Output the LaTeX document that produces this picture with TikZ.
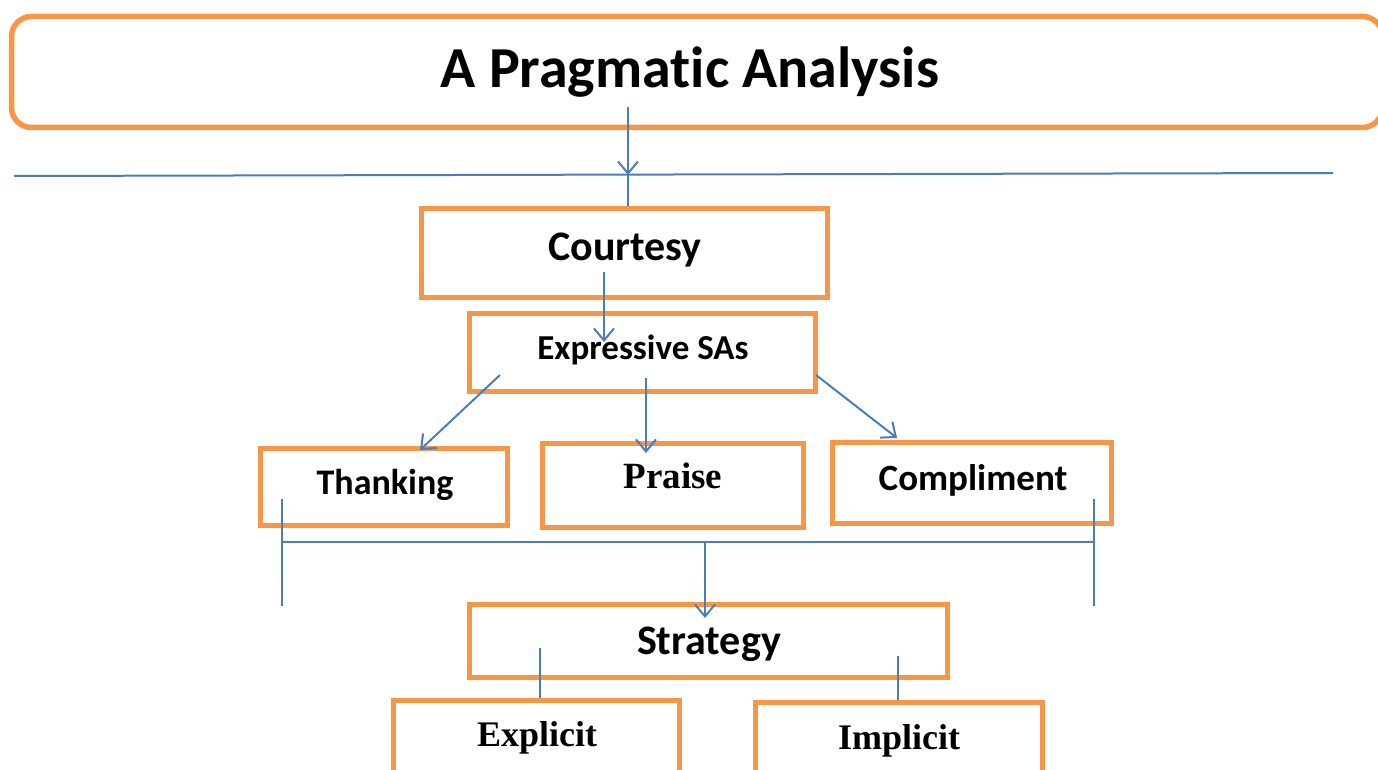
\documentclass[tikz,border=0pt]{standalone}
\usepackage{fontspec}
\setmainfont{Carlito}[Ligatures=NoCommon]
\newfontfamily\tnr{Liberation Serif}
\usetikzlibrary{arrows.meta}
\definecolor{boxorange}{HTML}{F79646}
\definecolor{lineblue}{HTML}{4A7EBB}
\begin{document}
\begin{tikzpicture}[x=1pt,y=-1pt,
  box/.style={draw=boxorange, line width=5.5pt, inner sep=0pt},
  conn/.style={draw=lineblue, line width=2pt},
  arr/.style={conn, -{Straight Barb[length=12pt,width=20pt]}},
  lbl/.style={anchor=base, inner sep=0pt, font=\bfseries}]
\useasboundingbox (0,0) rectangle (1378,770);
\clip (0,0) rectangle (1378,770);
% boxes
\node[box, rounded corners=20pt, minimum width=1371pt, minimum height=111pt] (title) at (697,72) {};
\node[box, minimum width=406pt, minimum height=89pt] (courtesy) at (624.5,253) {};
\node[box, minimum width=346pt, minimum height=78pt] (expr) at (642.5,352.5) {};
\node[box, minimum width=247pt, minimum height=77pt] (thank) at (384,487) {};
\node[box, minimum width=261pt, minimum height=84pt] (praise) at (673,485.5) {};
\node[box, minimum width=279pt, minimum height=81pt] (compl) at (972,483) {};
\node[box, minimum width=478pt, minimum height=73pt] (strat) at (708.5,641) {};
\node[box, minimum width=286pt, minimum height=87pt] (expl) at (536.5,744) {};
\node[box, minimum width=287pt, minimum height=87pt] (impl) at (899,746) {};
% labels
\node[lbl, font=\bfseries\fontsize{58}{62}\selectfont] (titleT) at (690,88) {A Pragmatic Analysis};
\node[lbl, font=\bfseries\fontsize{42}{46}\selectfont] (courtesyT) at (625,260) {Courtesy};
\node[lbl, font=\bfseries\fontsize{35}{40}\selectfont] (exprT) at (643,359) {Expressive SAs};
\node[lbl, font=\bfseries\fontsize{36}{40}\selectfont] (thankT) at (385,494) {Thanking};
\node[lbl, font=\tnr\bfseries\fontsize{37}{40}\selectfont] (praiseT) at (673,488) {Praise};
\node[lbl, font=\bfseries\fontsize{37}{40}\selectfont] (complT) at (973,490) {Compliment};
\node[lbl, font=\bfseries\fontsize{42}{46}\selectfont] (stratT) at (709,654) {Strategy};
\node[lbl, font=\tnr\bfseries\fontsize{36}{40}\selectfont] (explT) at (537,746) {Explicit};
\node[lbl, font=\tnr\bfseries\fontsize{36}{40}\selectfont] (implT) at (899,749) {Implicit};
% coordinates
\coordinate (t1) at (628,107);
\coordinate (hj) at (628,175);
\coordinate (hl) at (14,176);
\coordinate (hr) at (1333,173);
\coordinate (c1) at (604,272);
\coordinate (c2) at (604,342);
\coordinate (e1) at (500,375);
\coordinate (th1) at (420,450);
\coordinate (e2) at (646,378);
\coordinate (pr1) at (646,453);
\coordinate (e3) at (816,375);
\coordinate (co1) at (897,438);
\coordinate (bl) at (282,499);
\coordinate (blb) at (282,606);
\coordinate (br) at (1094,499);
\coordinate (brb) at (1094,606);
\coordinate (bm) at (705,542);
\coordinate (st1) at (705,618);
\coordinate (s1) at (540,648);
\coordinate (s2) at (898,656);
% connectors
\draw[conn] (hl) -- (hr);
\draw[arr] (t1) -- (hj);
\draw[conn] (hj) -- (hj |- courtesy.north);
\draw[arr] (c1) -- (c2);
\draw[arr] (e1) -- (th1);
\draw[arr] (e2) -- (pr1);
\draw[arr] (e3) -- (co1);
\draw[conn] (bl) -- (blb);
\draw[conn] (br) -- (brb);
\draw[conn] (bl |- bm) -- (br |- bm);
\draw[arr] (bm) -- (st1);
\draw[conn] (s1) -- (s1 |- expl.north);
\draw[conn] (s2) -- (s2 |- impl.north);
\end{tikzpicture}
\end{document}
